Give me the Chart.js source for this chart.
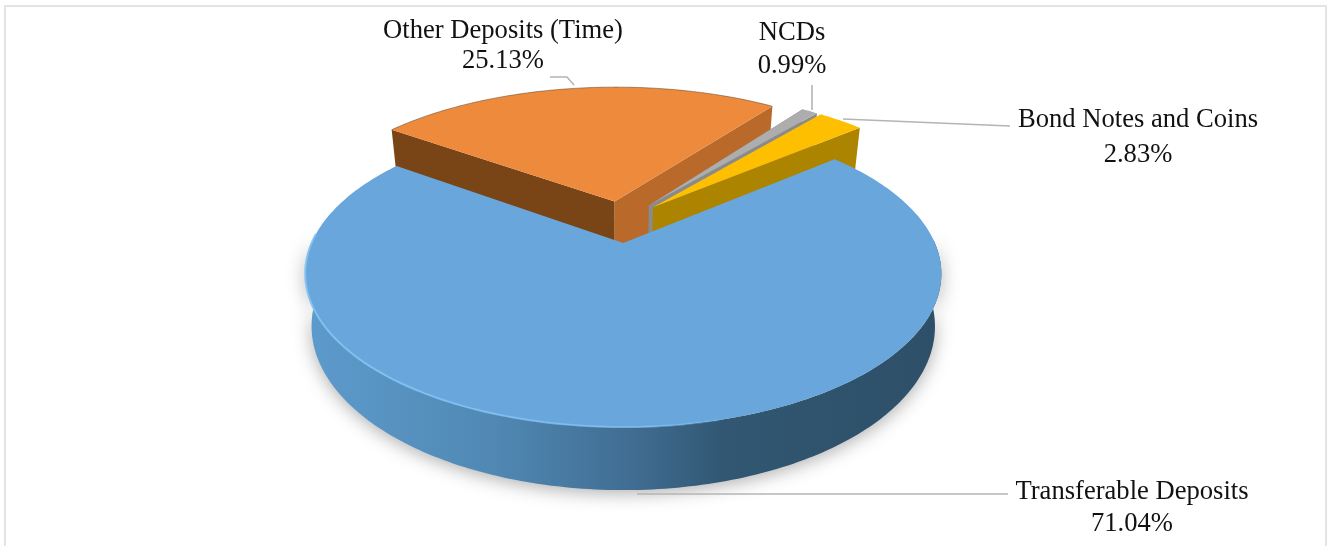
<!DOCTYPE html>
<html>
<head>
<meta charset="utf-8">
<title>Deposits pie</title>
<script src="https://cdn.jsdelivr.net/npm/chart.js@4"></script>
<style>
  html, body { margin: 0; padding: 0; background: #fff; overflow: hidden; }
  #frame { position: absolute; left: 4px; top: 5px; width: 1323px; height: 600px; border: 2px solid #e4e4e4; box-sizing: border-box; }
  #pie { position: absolute; left: 0; top: 0; }
</style>
</head>
<body>
<div id="frame"></div>
<canvas id="pie" width="1328" height="546"></canvas>
<script>
// ======================================
// Data
// ======================================

const categories = ["Transferable Deposits", "Other Deposits (Time)", "NCDs", "Bond Notes and Coins"];
const shares = [71.04, 25.13, 0.99, 2.83];
const topColors = ["#69a6db", "#ee8a3c", "#adadad", "#fdbf00"];

// ======================================
// 3D view of the disk
// ======================================

const VIEW = { x0: 621.5, y0: 221.6, a: 302.6, b: 138.8, persp: 0.194, depth: 49, shrink: 0.98, explode: 0.15 };
const FAR_RADIUS = 1.045; // the far slices look a little larger than the flat model gives

// u, v are in disk units (radius 1), v grows towards the viewer. level 0 is the top, 1 the bottom
function project(u, v, level) {
  const w = 1 - VIEW.persp * v;
  const k = 1 - (1 - VIEW.shrink) * level;
  return {
    x: VIEW.x0 + (VIEW.a * k * u) / w,
    y: VIEW.y0 + (VIEW.b * v) / w + (VIEW.depth * level) / w,
  };
}

function sliceGeometry(arc, index) {
  const mid = (arc.startAngle + arc.endAngle) / 2;
  const cu = VIEW.explode * Math.cos(mid);
  const cv = VIEW.explode * Math.sin(mid);
  const radius = index === 0 ? 1 : FAR_RADIUS;
  return {
    start: arc.startAngle,
    end: arc.endAngle,
    center: (level) => project(cu, cv, level),
    rim: (angle, level) => project(cu + radius * Math.cos(angle), cv + radius * Math.sin(angle), level),
  };
}

function tracePoints(ctx, points) {
  ctx.beginPath();
  points.forEach((p, i) => (i === 0 ? ctx.moveTo(p.x, p.y) : ctx.lineTo(p.x, p.y)));
  ctx.closePath();
}

function rimPoints(g, from, to, level) {
  const points = [];
  const steps = Math.max(4, Math.ceil(Math.abs(to - from) * 60));
  for (let i = 0; i <= steps; i++) {
    points.push(g.rim(from + ((to - from) * i) / steps, level));
  }
  return points;
}

function drawTop(ctx, g, color) {
  tracePoints(ctx, [g.center(0), ...rimPoints(g, g.start, g.end, 0)]);
  ctx.fillStyle = color;
  ctx.fill();
}

// cut faces run a bit deeper than the wall, the blue slice covers the extra part
function drawCut(ctx, g, angle, color) {
  tracePoints(ctx, [g.center(0), g.rim(angle, 0), g.rim(angle, 1.25), g.center(1.25)]);
  ctx.fillStyle = color;
  ctx.fill();
}

function drawFarEdge(ctx, g) {
  const points = rimPoints(g, g.start, g.end, 0);
  ctx.beginPath();
  points.forEach((p, i) => (i === 0 ? ctx.moveTo(p.x, p.y) : ctx.lineTo(p.x, p.y)));
  ctx.strokeStyle = "rgba(70,50,30,0.45)";
  ctx.lineWidth = 1;
  ctx.stroke();
}

function drawBlueSlice(ctx, g) {
  // only the part of the wall that faces the viewer
  const from = -0.02;
  const to = Math.PI + 0.02;
  const wall = [...rimPoints(g, from, to, 0), ...rimPoints(g, to, from, 1)];

  const wallFill = ctx.createLinearGradient(305, 0, 941, 0);
  wallFill.addColorStop(0, "#5d9bcd");
  wallFill.addColorStop(0.3, "#5088b3");
  wallFill.addColorStop(0.52, "#406c91");
  wallFill.addColorStop(0.66, "#315772");
  wallFill.addColorStop(1, "#2e4f68");

  ctx.save();
  ctx.shadowColor = "rgba(0,0,0,0.32)";
  ctx.shadowBlur = 18;
  ctx.shadowOffsetY = 3;
  tracePoints(ctx, wall);
  ctx.fillStyle = wallFill;
  ctx.fill();
  ctx.restore();

  drawTop(ctx, g, topColors[0]);

  // light bevel along the front left rim
  const bevel = ctx.createLinearGradient(305, 0, 760, 0);
  bevel.addColorStop(0, "rgba(130,195,245,0.9)");
  bevel.addColorStop(0.75, "rgba(130,195,245,0.7)");
  bevel.addColorStop(1, "rgba(130,195,245,0)");
  const edge = rimPoints(g, Math.PI * 1.02, Math.PI * 0.42, 0);
  ctx.beginPath();
  edge.forEach((p, i) => (i === 0 ? ctx.moveTo(p.x, p.y) : ctx.lineTo(p.x, p.y)));
  ctx.strokeStyle = bevel;
  ctx.lineWidth = 2;
  ctx.stroke();
}

// ======================================
// Labels and leader lines
// ======================================

const labelCenters = [
  { x: 1132, y: 492, gap: 32 },
  { x: 503, y: 31, gap: 30 },
  { x: 792, y: 33, gap: 33 },
  { x: 1138, y: 120, gap: 35 },
];

const leaderLines = [
  [[637, 494], [1008, 494]],
  [[550, 77], [567, 77], [574, 85]],
  [[812, 85], [812, 110]],
  [[843, 119], [1010, 126]],
];

function drawLabels(ctx) {
  ctx.save();
  ctx.strokeStyle = "#b4b4b4";
  ctx.lineWidth = 1.6;
  leaderLines.forEach((line) => {
    ctx.beginPath();
    line.forEach(([x, y], i) => (i === 0 ? ctx.moveTo(x, y) : ctx.lineTo(x, y)));
    ctx.stroke();
  });

  ctx.fillStyle = "#111";
  ctx.font = '26.6px "Liberation Serif"';
  ctx.textAlign = "center";
  ctx.textBaseline = "middle";
  categories.forEach((name, i) => {
    const spot = labelCenters[i];
    ctx.fillText(name, spot.x, spot.y);
    ctx.fillText(shares[i].toFixed(2) + "%", spot.x, spot.y + spot.gap);
  });
  ctx.restore();
}

// ======================================
// Plugin: draws the arcs Chart.js laid out, as a 3D pie
// ======================================

const pie3d = {
  id: "pie3d",
  beforeDatasetsDraw(chart) {
    const ctx = chart.ctx;
    const arcs = chart.getDatasetMeta(0).data.map(sliceGeometry);
    const [blue, orange, grey, yellow] = arcs;

    drawCut(ctx, orange, orange.start, "#7a4516");
    drawCut(ctx, orange, orange.end, "#b96a2b");
    drawTop(ctx, orange, topColors[1]);
    drawFarEdge(ctx, orange);

    drawCut(ctx, grey, grey.start, "#7d7d7d");
    drawCut(ctx, grey, grey.end, "#8a8a8a");
    drawTop(ctx, grey, topColors[2]);

    drawCut(ctx, yellow, yellow.end, "#ad8400");
    drawTop(ctx, yellow, topColors[3]);

    drawBlueSlice(ctx, blue);
    drawLabels(ctx);
    return false;
  },
};

// ======================================
// Chart
// ======================================

new Chart(document.getElementById("pie"), {
  type: "pie",
  data: {
    labels: categories,
    datasets: [{ data: shares, backgroundColor: topColors, borderWidth: 0 }],
  },
  options: {
    responsive: false,
    animation: false,
    rotation: 50,
    plugins: { legend: { display: false }, tooltip: { enabled: false } },
  },
  plugins: [pie3d],
});
</script>
</body>
</html>
